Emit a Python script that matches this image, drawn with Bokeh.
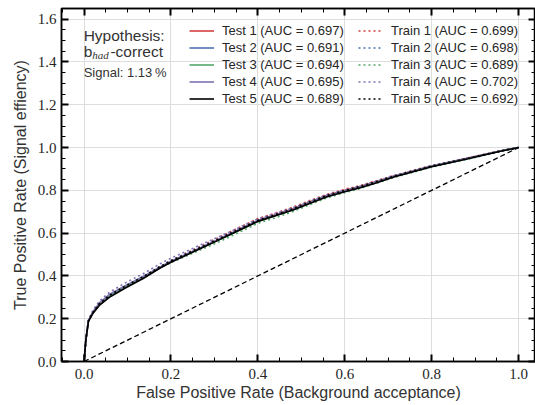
from bokeh.plotting import figure
from bokeh.models import (Range1d, LinearAxis, SingleIntervalTicker, PrintfTickFormatter,
                          CustomJSTickFormatter, Legend, LegendItem, Label, Grid)
from bokeh.embed import file_html
from bokeh.resources import INLINE

# ---------------- data ----------------
fpr = [0.0, 0.004, 0.01, 0.02, 0.035, 0.058, 0.097, 0.136, 0.174, 0.2, 0.268, 0.307, 0.345,
       0.4, 0.442, 0.481, 0.519, 0.558, 0.6, 0.636, 0.674, 0.713, 0.8, 0.884, 0.961, 1.0]

test1 = [0, 0.10, 0.19, 0.226, 0.265, 0.304, 0.350, 0.392, 0.438, 0.466, 0.530, 0.568, 0.606,
         0.659, 0.687, 0.714, 0.745, 0.776, 0.800, 0.819, 0.843, 0.867, 0.914, 0.951, 0.985, 1.0]
test2 = [0, 0.10, 0.19, 0.228, 0.268, 0.306, 0.351, 0.392, 0.437, 0.466, 0.530, 0.567, 0.604,
         0.657, 0.684, 0.711, 0.742, 0.772, 0.796, 0.815, 0.839, 0.865, 0.912, 0.950, 0.985, 1.0]
test3 = [0, 0.10, 0.19, 0.229, 0.270, 0.309, 0.354, 0.395, 0.440, 0.468, 0.531, 0.566, 0.602,
         0.654, 0.682, 0.709, 0.741, 0.772, 0.797, 0.816, 0.840, 0.866, 0.913, 0.950, 0.985, 1.0]
test4 = [0, 0.10, 0.192, 0.232, 0.274, 0.313, 0.357, 0.397, 0.441, 0.469, 0.532, 0.568, 0.605,
         0.658, 0.685, 0.712, 0.743, 0.773, 0.797, 0.816, 0.840, 0.866, 0.913, 0.950, 0.985, 1.0]
test5 = [0, 0.10, 0.188, 0.224, 0.262, 0.300, 0.346, 0.388, 0.436, 0.464, 0.528, 0.565, 0.602,
         0.655, 0.682, 0.708, 0.739, 0.769, 0.793, 0.812, 0.836, 0.862, 0.910, 0.948, 0.984, 1.0]

train1 = [0, 0.10, 0.19, 0.228, 0.268, 0.307, 0.353, 0.396, 0.443, 0.472, 0.539, 0.577, 0.615,
          0.668, 0.695, 0.722, 0.752, 0.781, 0.805, 0.823, 0.846, 0.870, 0.916, 0.952, 0.986, 1.0]
train2 = [0, 0.10, 0.19, 0.230, 0.272, 0.311, 0.356, 0.398, 0.444, 0.472, 0.536, 0.573, 0.610,
          0.663, 0.690, 0.717, 0.748, 0.777, 0.801, 0.820, 0.843, 0.868, 0.915, 0.951, 0.985, 1.0]
train3 = [0, 0.10, 0.19, 0.226, 0.266, 0.305, 0.350, 0.390, 0.436, 0.462, 0.522, 0.556, 0.592,
          0.646, 0.673, 0.701, 0.733, 0.764, 0.789, 0.809, 0.834, 0.860, 0.908, 0.946, 0.983, 1.0]
train4 = [0, 0.10, 0.195, 0.238, 0.282, 0.323, 0.370, 0.410, 0.456, 0.483, 0.545, 0.580, 0.615,
          0.667, 0.693, 0.719, 0.749, 0.778, 0.801, 0.820, 0.843, 0.868, 0.914, 0.951, 0.985, 1.0]
train5 = [0, 0.10, 0.19, 0.228, 0.270, 0.309, 0.355, 0.396, 0.442, 0.470, 0.533, 0.570, 0.607,
          0.660, 0.687, 0.714, 0.745, 0.775, 0.799, 0.818, 0.841, 0.866, 0.913, 0.950, 0.985, 1.0]

test_auc = [0.697, 0.691, 0.694, 0.695, 0.689]
train_auc = [0.699, 0.698, 0.689, 0.702, 0.692]
series_colors = ["#d43f3f", "#4c72b0", "#55a868", "#8172b2", "#000000"]

chance_x = [0.0, 1.0]
chance_y = [0.0, 1.0]

hypothesis = "Hypothesis:"
hyp_b, hyp_sub, hyp_rest = "b", "had", "-correct"
signal_text = "Signal: 1.13\u2009%"

# ---------------- figure ----------------
SANS = "Liberation Sans"
SERIF = "Liberation Serif"
TXT = "#262626"

p = figure(width=535, height=405, output_backend="svg", toolbar_location=None,
           x_range=Range1d(-0.052, 1.039), y_range=Range1d(0.0, 1.65),
           min_border_left=61, min_border_right=0, min_border_top=8, min_border_bottom=44)
p.xaxis.visible = False
p.yaxis.visible = False
p.xgrid.visible = False
p.ygrid.visible = False
p.background_fill_color = "white"
p.border_fill_color = "white"
p.outline_line_color = "black"
p.outline_line_width = 1.5

def make_axis(labels=True, label_text=None):
    ax = LinearAxis(ticker=SingleIntervalTicker(interval=0.2, num_minor_ticks=4))
    ax.axis_line_color = "black"
    ax.axis_line_width = 1.5
    ax.major_tick_in = 7
    ax.major_tick_out = 0
    ax.minor_tick_in = 4
    ax.minor_tick_out = 0
    ax.major_tick_line_width = 2
    ax.minor_tick_line_width = 1
    ax.major_tick_line_color = "black"
    ax.minor_tick_line_color = "black"
    if labels:
        ax.formatter = PrintfTickFormatter(format="%.1f")
        ax.major_label_text_font = SERIF
        ax.major_label_text_font_size = "15px"
        ax.major_label_text_color = TXT
        ax.axis_label = label_text
        ax.axis_label_text_font = SANS
        ax.axis_label_text_font_size = "16px"
        ax.axis_label_text_font_style = "normal"
        ax.axis_label_text_color = "#333333"
    else:
        ax.formatter = CustomJSTickFormatter(code="return '';")
        ax.major_label_standoff = 0
    return ax

xb = make_axis(True, "False Positive Rate (Background acceptance)")
xb.major_label_standoff = 7
xb.axis_label_standoff = 2
yl = make_axis(True, "True Positive Rate (Signal effiency)")
yl.major_label_standoff = 5
yl.axis_label_standoff = 6
p.add_layout(xb, "below")
p.add_layout(yl, "left")
p.add_layout(make_axis(False), "above")
p.add_layout(make_axis(False), "right")

p.add_layout(Grid(dimension=0, ticker=xb.ticker, grid_line_color="#dddddd", grid_line_width=1))
p.add_layout(Grid(dimension=1, ticker=yl.ticker, grid_line_color="#dddddd", grid_line_width=1))

p.line(chance_x, chance_y, line_color="black", line_width=1.3, line_dash="5 3")

tests = [test1, test2, test3, test4, test5]
trains = [train1, train2, train3, train4, train5]
test_items, train_items = [], []
for i in range(5):
    r_tr = p.line(fpr, trains[i], line_color=series_colors[i], line_width=1.6, line_dash="2 3")
    r_te = p.line(fpr, tests[i], line_color=series_colors[i], line_width=1.6)
    test_items.append(LegendItem(label=f"Test {i+1} (AUC = {test_auc[i]:.3f})", renderers=[r_te]))
    train_items.append(LegendItem(label=f"Train {i+1} (AUC = {train_auc[i]:.3f})", renderers=[r_tr]))

def make_legend(items, loc):
    lg = Legend(items=items, location=loc)
    lg.background_fill_alpha = 0
    lg.border_line_alpha = 0
    lg.padding = 0
    lg.margin = 0
    lg.spacing = 0
    lg.glyph_width = 25
    lg.glyph_height = 17
    lg.label_height = 17
    lg.label_standoff = 8
    lg.label_text_font = SANS
    lg.label_text_font_size = "13px"
    lg.label_text_color = TXT
    return lg

p.add_layout(make_legend(test_items, (128, 254)))
p.add_layout(make_legend(train_items, (297, 254)))

# ---------------- text annotations ----------------
PX = 430.0   # px per x unit
p.add_layout(Label(x=-0.001, y=1.524, text=hypothesis, text_font=SANS, text_font_size="15.5px",
                   text_color="#333333", text_baseline="alphabetic"))
p.add_layout(Label(x=-0.001, y=1.447, text=hyp_b, text_font=SANS, text_font_size="15.5px",
                   text_color="#333333", text_baseline="alphabetic"))
p.add_layout(Label(x=-0.001 + 8.6 / PX, y=1.432, text=hyp_sub, text_font=SERIF, text_font_size="11px",
                   text_font_style="italic", text_color="#333333", text_baseline="alphabetic"))
p.add_layout(Label(x=-0.001 + 26.5 / PX, y=1.447, text=hyp_rest, text_font=SANS, text_font_size="15.5px",
                   text_color="#333333", text_baseline="alphabetic"))
p.add_layout(Label(x=-0.001, y=1.349, text=signal_text, text_font=SANS, text_font_size="13px",
                   text_color="#333333", text_baseline="alphabetic"))

open("out.html", "w").write(file_html(p, INLINE))
